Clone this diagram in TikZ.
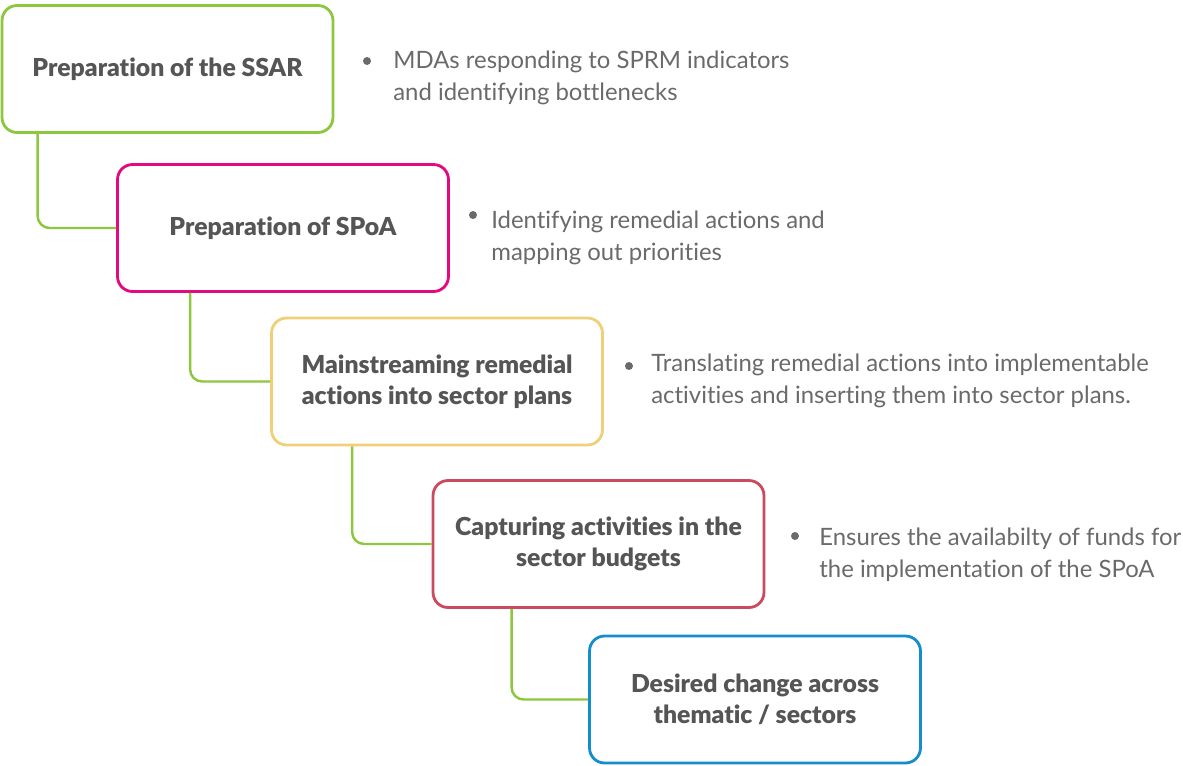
\documentclass[tikz,border=0pt]{standalone}
\usepackage{fontspec}
\setmainfont{Lato}[BoldFont=* Black,Ligatures=NoCommon]
\usetikzlibrary{positioning}

\definecolor{leaf}{HTML}{8DC63F}
\definecolor{berry}{HTML}{E5097F}
\definecolor{sand}{HTML}{EFCF78}
\definecolor{brick}{HTML}{CB4A5D}
\definecolor{sky}{HTML}{138DCB}
\definecolor{ink}{HTML}{555555}
\definecolor{soft}{HTML}{6A6A6A}

\tikzset{stage/.style={draw=#1,line width=1.6pt,rounded corners=0.3cm,fill=white,
    minimum width=6.62cm,minimum height=2.54cm,align=center,text=ink,
    font=\fontsize{14.1}{17.6}\selectfont\bfseries}}
\tikzset{note/.style={anchor=base west,align=left,inner sep=0pt,text=soft,
    font=\fontsize{13.6}{18.1}\selectfont}}
\tikzset{dot/.style={circle,fill=soft,inner sep=0pt,minimum size=0.16cm}}
\tikzset{link/.style={leaf,line width=1.4pt,rounded corners=0.24cm}}

\begin{document}
\begin{tikzpicture}[x=0.02cm,y=-0.02cm]
        \useasboundingbox (0,0) rectangle (1183,765);
        % draw the stages
        \node[stage=leaf] (ssar) at (167.5,69) {Preparation of the SSAR};
        \node[stage=berry] (spoa) at (283,228) {Preparation of SPoA};
        \node[stage=sand] (plans) at (437,381.5) {Mainstreaming remedial\\actions into sector plans};
        \node[stage=brick] (budget) at (598.5,544) {Capturing activities in the\\sector budgets};
        \node[stage=sky] (change) at (755,699.5) {Desired change across\\thematic / sectors};

        % draw the links between stages
        \draw[link] ([xshift=0.74cm]ssar.south west) |- (spoa.west);
        \draw[link] ([xshift=1.48cm]spoa.south west) |- (plans.west);
        \draw[link] ([xshift=1.64cm]plans.south west) |- (budget.west);
        \draw[link] ([xshift=1.6cm]budget.south west) |- (change.west);

        % bullet notes (base is the last line)
        \node[dot] (d1) at (367,61) {};
        \node[note] (n1) at (393,100) {MDAs responding to SPRM indicators\\and identifying bottlenecks};
        \node[dot] (d2) at (473,215) {};
        \node[note] (n2) at (491,260) {Identifying remedial actions and\\mapping out priorities};
        \node[dot] (d3) at (629,366) {};
        \node[note] (n3) at (651,403) {Translating remedial actions into implementable\\activities and inserting them into sector plans.};
        \node[dot] (d4) at (795,536) {};
        \node[note] (n4) at (819,577) {Ensures the availabilty of funds for\\the implementation of the SPoA};
    \end{tikzpicture}
\end{document}
